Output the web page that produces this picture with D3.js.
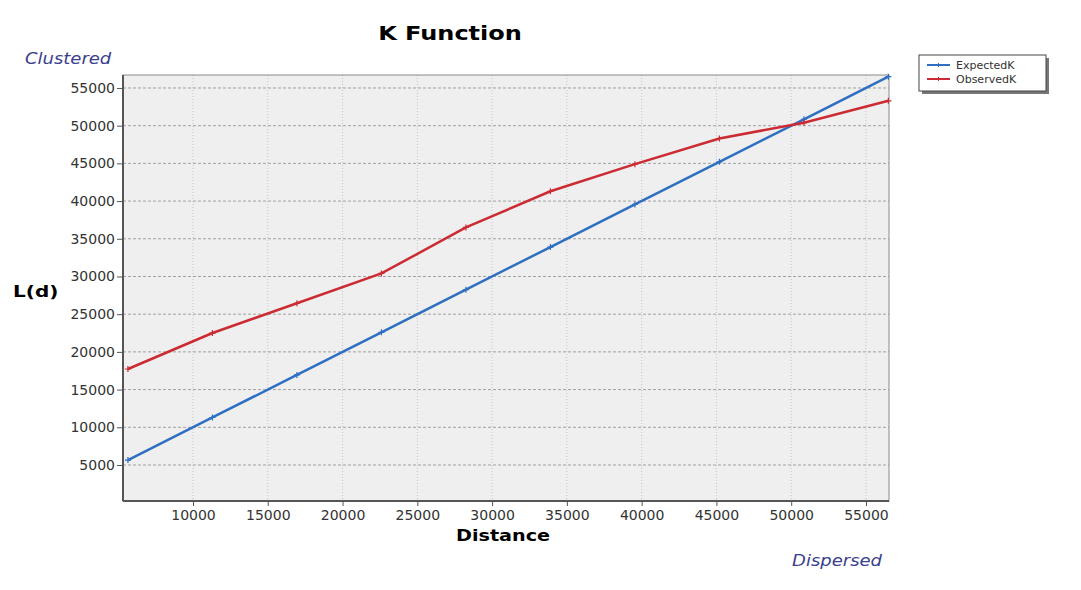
<!DOCTYPE html>
<html>
<head>
  <title>K Function</title>
  <style>
    body { margin: 0; background: #fff; }
    .tick text { font-family: "DejaVu Sans", Verdana, sans-serif; font-size: 14px; fill: #333; }
    .axis path { display: none; }
    .axis line { stroke: #555; }
  </style>
</head>
<body>
  <svg id="chart" width="1081" height="590"></svg>

  <script src="https://cdn.jsdelivr.net/npm/d3@7"></script>
  <script>
    // data
    const distances = [5650, 11300, 16950, 22600, 28250, 33900, 39550, 45200, 50850, 56500];
    const expectedK = [5650, 11300, 16950, 22600, 28250, 33900, 39550, 45200, 50850, 56500];
    const observedK = [17730, 22500, 26450, 30400, 36500, 41300, 44900, 48300, 50400, 53300];
    const xTicks = [10000, 15000, 20000, 25000, 30000, 35000, 40000, 45000, 50000, 55000];
    const yTicks = [5000, 10000, 15000, 20000, 25000, 30000, 35000, 40000, 45000, 50000, 55000];
    const seriesNames = ["ExpectedK", "ObservedK"];
    const colors = ["#2f6fc2", "#cc2b33"];

    const width = 1081;
    const height = 590;
    const margin = { top: 75, right: 192, bottom: 89, left: 123 };
    const w = width - margin.left - margin.right;
    const h = height - margin.top - margin.bottom;

    const svg = d3.select("#chart");
    svg.append("rect").attr("width", width).attr("height", height).attr("fill", "#fff");

    const chart = svg.append("g")
      .attr("transform", `translate(${margin.left}, ${margin.top})`);

    const xScale = d3.scaleLinear().domain([5320, 56540]).range([0, w]);
    const yScale = d3.scaleLinear().domain([225, 56720]).range([h, 0]);

    // plot background
    chart.append("rect")
      .attr("width", w).attr("height", h)
      .attr("fill", "#efefef");

    // grid
    chart.selectAll(".vgrid").data(xTicks).enter().append("line")
      .attr("x1", d => xScale(d)).attr("x2", d => xScale(d))
      .attr("y1", 0).attr("y2", h)
      .attr("stroke", "#c4c4c4").attr("stroke-dasharray", "1,2");

    chart.selectAll(".hgrid").data(yTicks).enter().append("line")
      .attr("x1", 0).attr("x2", w)
      .attr("y1", d => yScale(d)).attr("y2", d => yScale(d))
      .attr("stroke", "#a0a0a0").attr("stroke-dasharray", "3,2");

    // frame
    chart.append("rect")
      .attr("width", w).attr("height", h)
      .attr("fill", "none").attr("stroke", "#8a8a8a").attr("stroke-width", 1);
    chart.append("line").attr("x1", 0).attr("x2", 0).attr("y1", 0).attr("y2", h)
      .attr("stroke", "#555").attr("stroke-width", 2);
    chart.append("line").attr("x1", 0).attr("x2", w).attr("y1", h).attr("y2", h)
      .attr("stroke", "#555").attr("stroke-width", 2);

    // axes
    chart.append("g")
      .attr("class", "axis")
      .attr("transform", `translate(0, ${h})`)
      .call(d3.axisBottom(xScale).tickValues(xTicks).tickSize(5).tickPadding(4).tickFormat(d3.format("d")));

    chart.append("g")
      .attr("class", "axis")
      .call(d3.axisLeft(yScale).tickValues(yTicks).tickSize(6).tickPadding(2).tickFormat(d3.format("d")));

    // lines
    const series = [expectedK, observedK];
    const line = d3.line()
      .x((d, i) => xScale(distances[i]))
      .y(d => yScale(d));

    series.forEach((vals, s) => {
      chart.append("path")
        .datum(vals)
        .attr("fill", "none")
        .attr("stroke", colors[s])
        .attr("stroke-width", 2.5)
        .attr("d", line);

      chart.selectAll(".mk" + s).data(vals).enter().append("path")
        .attr("d", (d, i) => {
          const x = xScale(distances[i]), y = yScale(d);
          return `M${x - 3},${y}L${x + 3},${y}M${x},${y - 3}L${x},${y + 3}`;
        })
        .attr("stroke", colors[s])
        .attr("stroke-width", 1.2);
    });

    // title and labels (the source image is stretched sideways a little)
    function label(x, y, txt, size, opts) {
      const g = svg.append("g").attr("transform", `translate(${x}, ${y}) scale(${opts.sx || 1}, 1)`);
      return g.append("text")
        .attr("text-anchor", opts.anchor || "start")
        .style("font-family", "'DejaVu Sans', Verdana, sans-serif")
        .style("font-weight", opts.bold ? "bold" : "normal")
        .style("font-style", opts.italic ? "italic" : "normal")
        .style("font-size", size + "px")
        .attr("fill", opts.fill || "#000")
        .text(txt);
    }

    label(450, 40, "K Function", 20, { anchor: "middle", bold: true, sx: 1.2 });
    label(13, 297, "L(d)", 16, { bold: true, sx: 1.25 });
    label(503, 541, "Distance", 16, { anchor: "middle", bold: true, sx: 1.2 });
    label(25, 64, "Clustered", 15, { italic: true, sx: 1.2, fill: "#3b3f8f" });
    label(882, 566, "Dispersed", 15, { anchor: "end", italic: true, sx: 1.2, fill: "#3b3f8f" });

    // legend
    const legend = svg.append("g").attr("transform", "translate(919, 55)");
    legend.append("rect")
      .attr("x", 3).attr("y", 3).attr("width", 127).attr("height", 36)
      .attr("fill", "#777");
    legend.append("rect")
      .attr("width", 127).attr("height", 36)
      .attr("fill", "#fff").attr("stroke", "#444");

    seriesNames.forEach((name, i) => {
      const y = 10 + i * 14;
      legend.append("line")
        .attr("x1", 8).attr("x2", 31).attr("y1", y).attr("y2", y)
        .attr("stroke", colors[i]).attr("stroke-width", 2);
      legend.append("line")
        .attr("x1", 19.5).attr("x2", 19.5).attr("y1", y - 2).attr("y2", y + 2)
        .attr("stroke", colors[i]).attr("stroke-width", 1);
      legend.append("text")
        .attr("x", 37).attr("y", y + 4)
        .style("font-family", "'DejaVu Sans', Verdana, sans-serif")
        .style("font-size", "11px")
        .attr("fill", "#333")
        .text(name);
    });
  </script>
</body>
</html>
